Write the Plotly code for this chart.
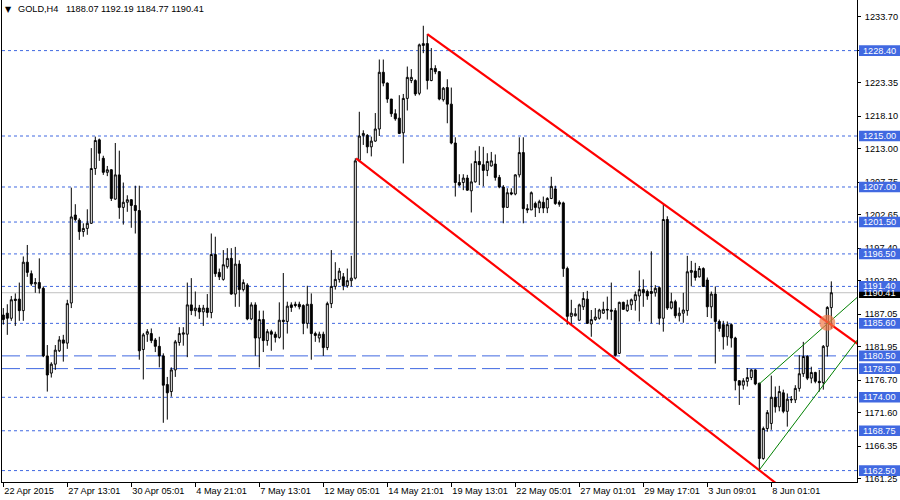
import plotly.graph_objects as go

# ---------------- data ----------------
opens = [1186.9,1187.2,1186.4,1189.4,1189.4,1187.6,1195.2,1193.4,1191.8,1192.0,
         1191.1,1180.5,1177.8,1179.2,1181.3,1183.0,1182.5,1188.8,1202.6,1201.8,
         1200.0,1200.5,1201.3,1209.9,1214.4,1211.5,1209.3,1209.7,1205.1,1208.9,
         1203.8,1204.6,1205.0,1204.1,1203.3,1181.5,1183.9,1184.0,1183.0,1182.0,
         1180.5,1176.0,1174.9,1178.3,1182.6,1183.9,1183.9,1188.5,1187.6,1188.0,
         1187.4,1188.0,1187.3,1196.4,1193.6,1192.5,1194.5,1195.8,1190.2,1194.9,
         1190.9,1191.6,1186.3,1188.5,1183.3,1186.2,1182.9,1184.3,1183.9,1183.4,
         1186.1,1185.9,1188.5,1188.6,1188.6,1188.4,1185.6,1188.6,1184.0,1183.3,
         1183.9,1181.8,1188.7,1191.4,1192.5,1192.9,1191.5,1192.3,1192.7,1211.2,
         1215.1,1215.1,1213.3,1214.2,1216.1,1225.0,1223.3,1220.8,1218.5,1217.8,
         1215.5,1220.9,1223.7,1223.7,1221.7,1229.2,1229.5,1223.7,1225.6,1225.1,
         1220.7,1222.6,1220.0,1213.9,1207.7,1207.7,1208.4,1206.4,1207.8,1211.0,
         1210.5,1209.6,1210.3,1210.6,1208.5,1207.0,1203.8,1206.1,1205.9,1208.9,
         1212.4,1203.6,1203.4,1204.4,1203.7,1204.6,1203.7,1205.2,1206.7,1204.6,
         1204.5,1194.2,1186.7,1186.8,1186.1,1188.2,1189.4,1185.5,1186.2,1186.4,
         1187.2,1187.8,1187.7,1187.6,1180.9,1188.9,1187.6,1188.5,1189.2,1189.9,
         1190.9,1190.6,1190.6,1190.4,1191.2,1186.4,1201.9,1188.0,1189.0,1186.8,
         1187.2,1187.6,1193.6,1193.8,1192.9,1194.2,1192.4,1188.2,1190.2,1185.9,
         1185.4,1183.5,1185.4,1183.3,1176.6,1175.9,1176.5,1177.1,1178.3,1176.2,
         1164.4,1169.1,1169.9,1174.0,1172.5,1174.7,1171.8,1173.7,1173.6,1175.4,
         1177.7,1180.4,1177.0,1177.9,1176.5,1176.3,1182.0,1188.07]
highs = [1188.0,1188.6,1189.9,1190.3,1192.0,1196.1,1197.9,1193.9,1192.7,1195.8,
         1191.4,1182.2,1179.5,1182.2,1183.6,1183.8,1189.3,1206.9,1204.3,1202.1,
         1201.3,1203.5,1213.1,1214.9,1214.6,1211.9,1210.3,1209.8,1213.9,1212.7,
         1207.7,1205.7,1205.1,1207.2,1207.2,1184.1,1184.7,1184.8,1183.3,1183.5,
         1180.9,1177.2,1178.7,1183.0,1185.0,1185.0,1192.0,1192.7,1190.6,1188.5,
         1188.5,1190.2,1199.7,1199.2,1194.2,1197.1,1197.4,1197.4,1197.6,1195.5,
         1192.5,1191.9,1188.9,1188.9,1187.6,1187.6,1184.7,1184.6,1184.3,1188.9,
         1193.5,1189.0,1188.9,1189.0,1189.0,1188.6,1191.5,1190.3,1184.3,1184.3,
         1184.3,1189.0,1197.1,1195.2,1194.3,1193.5,1194.2,1196.2,1211.5,1218.8,
         1215.9,1215.3,1214.9,1218.6,1227.0,1227.0,1223.4,1220.8,1219.2,1221.4,
         1221.6,1225.9,1225.5,1223.9,1229.5,1232.3,1231.0,1228.8,1226.1,1225.2,
         1222.7,1223.9,1222.6,1214.8,1209.0,1209.0,1208.9,1210.7,1212.7,1213.4,
         1213.3,1212.3,1212.5,1212.1,1208.9,1207.3,1206.8,1206.8,1209.0,1214.8,
         1214.8,1204.3,1206.3,1204.7,1205.0,1205.5,1205.4,1208.6,1207.2,1204.9,
         1204.7,1194.5,1189.3,1188.0,1188.7,1190.5,1190.7,1187.7,1188.0,1187.9,
         1189.0,1189.8,1192.0,1188.0,1189.0,1189.0,1189.3,1189.5,1190.6,1193.9,
         1192.5,1190.9,1196.9,1191.6,1191.4,1204.2,1202.4,1190.4,1189.3,1188.1,
         1190.4,1196.2,1195.4,1195.1,1194.6,1194.4,1192.8,1190.6,1191.4,1186.2,
         1186.0,1185.9,1185.6,1183.5,1176.7,1177.0,1178.6,1178.4,1178.4,1176.3,
         1169.4,1172.0,1177.4,1175.7,1175.8,1175.2,1174.6,1174.2,1175.9,1180.6,
         1182.7,1180.6,1178.8,1178.0,1178.3,1182.2,1188.3,1192.19]
lows = [1185.4,1183.8,1186.0,1185.2,1186.0,1186.0,1192.9,1191.5,1190.4,1190.3,
        1180.3,1174.9,1177.1,1178.3,1181.1,1179.6,1181.6,1188.0,1201.6,1198.7,
        1199.2,1199.5,1201.2,1208.9,1211.1,1208.9,1208.7,1204.8,1205.0,1202.0,
        1201.1,1203.1,1200.6,1199.7,1179.9,1176.8,1182.7,1182.5,1181.1,1178.7,
        1170.0,1170.5,1174.1,1177.2,1182.1,1182.1,1180.3,1186.9,1186.7,1186.3,
        1185.2,1186.5,1186.4,1192.9,1192.4,1192.3,1194.2,1190.1,1188.2,1188.2,
        1190.6,1186.1,1186.1,1180.5,1178.7,1181.1,1182.1,1181.3,1182.6,1183.2,
        1181.5,1184.0,1187.4,1188.1,1187.8,1183.9,1184.8,1179.9,1182.7,1182.6,
        1180.5,1181.4,1188.0,1190.9,1192.0,1190.8,1191.2,1191.4,1192.5,1210.9,
        1213.6,1212.3,1211.8,1214.1,1215.0,1222.8,1220.2,1218.0,1217.4,1215.3,
        1210.7,1219.0,1223.3,1221.3,1221.4,1228.0,1222.3,1223.6,1224.7,1220.6,
        1220.4,1217.0,1213.7,1205.5,1207.1,1206.5,1206.4,1203.0,1207.7,1207.3,
        1207.1,1208.7,1210.2,1208.0,1206.8,1201.3,1203.7,1205.7,1205.7,1208.5,
        1201.3,1202.9,1203.4,1202.3,1202.9,1202.9,1202.9,1205.1,1204.2,1203.9,
        1192.9,1185.4,1185.5,1186.7,1186.0,1187.7,1185.5,1183.5,1186.0,1186.2,
        1187.1,1186.2,1186.1,1180.4,1180.8,1187.7,1187.4,1187.7,1187.6,1185.9,
        1188.2,1189.3,1185.6,1189.8,1185.4,1184.3,1187.7,1187.8,1186.4,1185.9,
        1185.7,1186.8,1191.4,1192.3,1192.8,1191.3,1186.6,1186.4,1179.3,1184.3,
        1181.5,1182.1,1181.8,1175.1,1172.8,1175.2,1175.7,1176.7,1175.9,1162.6,
        1164.2,1168.6,1168.9,1171.6,1171.8,1171.5,1169.4,1173.1,1173.1,1174.9,
        1177.2,1176.7,1176.2,1176.2,1174.9,1175.2,1180.4,1184.77]
closes = [1186.2,1186.4,1189.3,1189.2,1187.6,1195.2,1193.6,1191.8,1192.0,1191.1,
          1180.5,1177.5,1179.2,1181.4,1183.0,1182.5,1188.7,1202.3,1201.9,1200.0,
          1200.5,1201.3,1209.9,1214.3,1212.3,1209.3,1209.7,1205.2,1208.9,1203.8,
          1204.6,1205.0,1204.1,1203.3,1181.3,1183.8,1184.3,1182.9,1182.0,1180.5,
          1175.9,1174.7,1178.3,1182.7,1184.0,1184.1,1188.5,1187.6,1188.0,1187.4,
          1188.0,1187.3,1196.4,1193.4,1192.9,1194.8,1195.8,1190.2,1194.9,1190.9,
          1192.0,1186.3,1188.5,1183.3,1186.2,1182.9,1184.3,1183.9,1183.4,1186.1,
          1185.9,1188.3,1188.1,1188.4,1188.2,1185.6,1188.6,1184.0,1183.7,1183.9,
          1181.8,1188.7,1191.4,1192.5,1193.8,1191.5,1192.3,1192.7,1211.1,1215.0,
          1215.4,1213.3,1214.2,1216.1,1225.0,1223.3,1220.8,1218.5,1217.7,1215.4,
          1220.9,1224.2,1224.2,1221.6,1229.3,1229.5,1223.7,1225.6,1225.1,1220.8,
          1222.5,1220.0,1213.9,1207.7,1207.3,1208.4,1206.5,1207.8,1211.0,1210.5,
          1209.6,1211.0,1211.1,1208.5,1207.0,1203.8,1206.1,1205.9,1208.9,1212.4,
          1203.6,1203.4,1206.1,1203.8,1204.7,1203.7,1205.2,1207.1,1204.4,1204.3,
          1194.2,1186.7,1187.2,1187.1,1188.5,1189.5,1185.6,1186.2,1186.6,1187.7,
          1187.8,1187.7,1187.5,1180.6,1188.9,1187.8,1188.5,1189.3,1190.1,1190.9,
          1190.4,1189.9,1190.3,1191.1,1186.4,1201.9,1188.0,1189.0,1186.8,1187.2,
          1187.7,1193.7,1193.9,1192.8,1194.2,1191.4,1188.2,1190.2,1185.9,1184.8,
          1183.5,1185.4,1183.3,1176.6,1175.9,1176.6,1177.1,1178.3,1176.1,1164.4,
          1169.1,1171.6,1174.0,1172.5,1174.9,1171.8,1173.7,1173.6,1175.4,1177.7,
          1180.4,1177.0,1177.9,1176.5,1176.3,1182.0,1188.1,1190.41]
candle_index = list(range(len(opens)))

xtick_index = [0, 16, 32, 48, 64, 80, 96, 112, 128, 144, 160, 176, 192]
xtick_labels = ["22 Apr 2015", "27 Apr 13:01", "30 Apr 05:01", "4 May 21:01",
                "7 May 13:01", "12 May 05:01", "14 May 21:01", "19 May 13:01",
                "22 May 05:01", "27 May 01:01", "29 May 17:01", "3 Jun 09:01",
                "8 Jun 01:01"]
ytick_values = [1233.70, 1228.45, 1223.35, 1218.10, 1213.00, 1207.75, 1202.65,
                1197.40, 1192.30, 1187.05, 1181.95, 1176.70, 1171.60, 1166.35, 1161.25]

dotted_levels = [1228.40, 1215.00, 1207.00, 1201.50, 1196.50, 1191.40,
                 1185.60, 1174.00, 1168.75, 1162.50]
dashed_levels = [1180.50, 1178.50]
bid_price = 1190.41

upper_red_x = [106.0, 222.0]
upper_red_y = [1231.0, 1178.6]
lower_red_x = [88.2, 200.0]
lower_red_y = [1211.5, 1157.2]
upper_green_x = [189.0, 220.0]
upper_green_y = [1176.1, 1193.3]
lower_green_x = [189.0, 220.0]
lower_green_y = [1162.6, 1188.4]
marker_x = [206.0]
marker_y = [1185.7]

title_text = "GOLD,H4\u00a0\u00a0 1188.07 1192.19 1184.77 1190.41"

# ---------------- figure ----------------
FONT = "Liberation Sans, Arial, sans-serif"
FS = 9.2
BLUE = "#4169E1"
W, H = 900, 500
ML, MR, MT, MB = 2, 43, 0, 18
PW = W - ML - MR            # plot width in px
Y_RANGE = [1160.71, 1236.34]
PPU = (H - MT - MB) / (Y_RANGE[1] - Y_RANGE[0])   # px per price unit


def px_to_paper_x(px):
    return (px - ML) / PW


fig = go.Figure()
fig.add_trace(go.Candlestick(
    x=candle_index, open=opens, high=highs, low=lows, close=closes,
    increasing=dict(line=dict(color="black", width=1), fillcolor="white"),
    decreasing=dict(line=dict(color="black", width=1), fillcolor="black"),
    whiskerwidth=0, showlegend=False, hoverinfo="skip"))

for xs, ys in [(upper_red_x, upper_red_y), (lower_red_x, lower_red_y)]:
    fig.add_trace(go.Scatter(x=xs, y=ys, mode="lines",
                             line=dict(color="#FF0000", width=2.2),
                             showlegend=False, hoverinfo="skip"))
for xs, ys in [(upper_green_x, upper_green_y), (lower_green_x, lower_green_y)]:
    fig.add_trace(go.Scatter(x=xs, y=ys, mode="lines",
                             line=dict(color="#008000", width=1),
                             showlegend=False, hoverinfo="skip"))
fig.add_trace(go.Scatter(x=marker_x, y=marker_y, mode="markers",
                         marker=dict(symbol="circle", size=16,
                                     color="rgba(240,120,70,0.7)",
                                     line=dict(width=0)),
                         showlegend=False, hoverinfo="skip"))

shapes = []
for lv in dotted_levels:
    shapes.append(dict(type="line", xref="paper", x0=0, x1=1, yref="y", y0=lv, y1=lv,
                       line=dict(color=BLUE, width=1, dash="3px,3px"), layer="below"))
for lv in dashed_levels:
    shapes.append(dict(type="line", xref="paper", x0=0, x1=1, yref="y", y0=lv, y1=lv,
                       line=dict(color=BLUE, width=1, dash="18px,6px"), layer="below"))
shapes.append(dict(type="line", xref="paper", x0=0, x1=1, yref="y", y0=bid_price, y1=bid_price,
                   line=dict(color="#C0C0C0", width=1), layer="below"))

# price boxes on the right scale (black bid box first, blue level boxes over it)
half_box = 5.3 / PPU
box_x0 = px_to_paper_x(859)
box_x1 = px_to_paper_x(901)
text_x = px_to_paper_x(863)
annotations = []
box_list = [(bid_price, "black")] + [(lv, BLUE) for lv in dotted_levels + dashed_levels]
for lv, col in box_list:
    shapes.append(dict(type="rect", xref="paper", x0=box_x0, x1=box_x1, yref="y",
                       y0=lv - half_box, y1=lv + half_box, fillcolor=col,
                       line=dict(width=0), layer="above"))
    annotations.append(dict(xref="paper", x=text_x, xanchor="left", yref="y", y=lv,
                            yanchor="middle", text=f"{lv:.2f}", showarrow=False,
                            font=dict(color="white", size=FS, family=FONT),
                            borderpad=0, borderwidth=0))

annotations.append(dict(xref="paper", x=px_to_paper_x(8.5), xanchor="center",
                        yref="paper", y=1, yanchor="middle", yshift=-9.5,
                        text="\u25BC", showarrow=False, borderpad=0, borderwidth=0,
                        font=dict(color="black", size=8, family="DejaVu Sans")))
annotations.append(dict(xref="paper", x=px_to_paper_x(18), xanchor="left",
                        yref="paper", y=1, yanchor="middle", yshift=-9,
                        text=title_text, showarrow=False, borderpad=0, borderwidth=0,
                        font=dict(color="black", size=FS, family=FONT)))

fig.update_layout(
    width=W, height=H, autosize=False,
    margin=dict(l=ML, r=MR, t=MT, b=MB, pad=0),
    paper_bgcolor="white", plot_bgcolor="white",
    shapes=shapes, annotations=annotations,
    boxgap=0.5, boxgroupgap=0,
    hovermode=False,
    font=dict(family=FONT, size=FS, color="black"),
    xaxis=dict(range=[-0.325, 213.425], type="linear", rangeslider=dict(visible=False),
               showgrid=False, zeroline=False, showline=True, linecolor="black", linewidth=1,
               ticks="outside", ticklen=4, tickcolor="black", tickangle=0,
               tickvals=xtick_index, ticktext=xtick_labels,
               ticklabelposition="outside right", automargin=False,
               tickfont=dict(size=FS, family=FONT, color="black")),
    yaxis=dict(range=Y_RANGE, side="right", showgrid=False, zeroline=False,
               showline=True, linecolor="black", linewidth=1, mirror=True,
               ticks="outside", ticklen=3, tickcolor="black", automargin=False,
               ticklabelstandoff=2,
               tickvals=ytick_values, ticktext=[f"{v:.2f}" for v in ytick_values],
               tickfont=dict(size=FS, family=FONT, color="black")),
)

fig.write_html(
    "out.html",
    config={"displayModeBar": False, "staticPlot": True},
    post_script="document.body.style.margin='0';document.body.style.padding='0';"
                "document.body.style.overflow='hidden';",
)
